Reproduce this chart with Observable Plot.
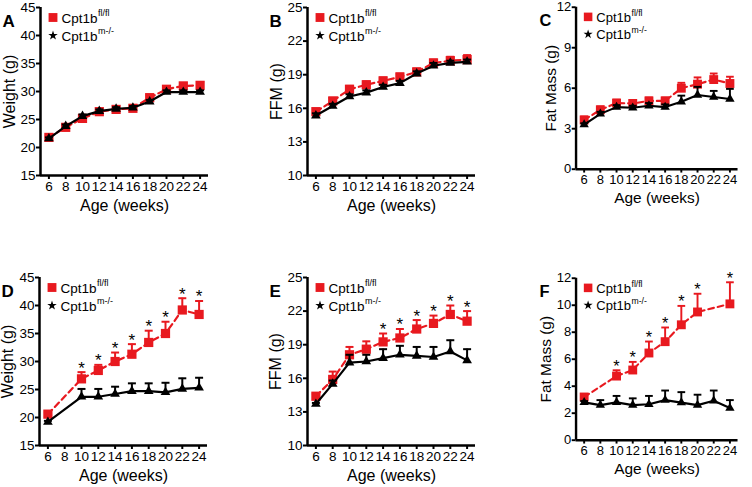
<!DOCTYPE html>
<html><head><meta charset="utf-8">
<script src="https://cdn.jsdelivr.net/npm/d3@7"></script>
<script src="https://cdn.jsdelivr.net/npm/@observablehq/plot@0.6"></script>
<style>
body{margin:0;background:#fff;}
#chart{position:relative;width:752px;height:487px;overflow:hidden;background:#fff;font-family:"Liberation Sans",Arial,sans-serif;}
.panel{position:absolute;}
</style></head><body><div id="chart"></div>
<script>
// ---------- data ----------
const weeks = [6, 8, 10, 12, 14, 16, 18, 20, 22, 24];
const weeksD = [6, 10, 12, 14, 16, 18, 20, 22, 24];
const weeksFRed = [6, 10, 12, 14, 16, 18, 20, 24];
const xTicks = [6, 8, 10, 12, 14, 16, 18, 20, 22, 24];

const legendLabel = "Cpt1b";
const supFl = "fl/fl";
const supKo = "m-/-";
const xTitle = "Age (weeks)";

// Panel A: Weight (g)
const aFl = [21.8, 23.6, 25.2, 26.4, 26.8, 27.0, 28.9, 30.4, 31.0, 31.1];
const aFlSem = [0.3, 0.4, 0.4, 0.3, 0.3, 0.3, 0.5, 0.4, 0.5, 0.6];
const aKo = [21.6, 23.8, 25.6, 26.5, 26.9, 27.1, 28.2, 29.9, 29.9, 29.9];
const aKoSem = [0.2, 0.3, 0.3, 0.3, 0.3, 0.3, 0.3, 0.3, 0.3, 0.3];
const aSig = [];

// Panel B: FFM (g)
const bFl = [15.7, 16.65, 17.7, 18.1, 18.45, 18.8, 19.25, 20.05, 20.25, 20.35];
const bFlSem = [0.2, 0.3, 0.3, 0.3, 0.3, 0.3, 0.3, 0.3, 0.35, 0.4];
const bKo = [15.35, 16.2, 17.05, 17.4, 17.9, 18.25, 19.1, 19.8, 20.05, 20.15];
const bKoSem = [0.2, 0.2, 0.2, 0.2, 0.2, 0.2, 0.2, 0.25, 0.2, 0.2];
const bSig = [];

// Panel C: Fat Mass (g)
const cFl = [3.65, 4.4, 4.9, 4.87, 5.06, 5.06, 6.0, 6.3, 6.64, 6.35];
const cFlSem = [0.25, 0.25, 0.25, 0.25, 0.25, 0.25, 0.4, 0.5, 0.45, 0.5];
const cKo = [3.3, 4.1, 4.6, 4.55, 4.7, 4.6, 5.0, 5.5, 5.35, 5.2];
const cKoSem = [0.1, 0.15, 0.15, 0.15, 0.2, 0.2, 0.45, 0.6, 0.45, 0.75];
const cSig = [];

// Panel D: Weight (g)
const dFl = [20.6, 26.9, 28.4, 30.0, 31.3, 33.4, 35.0, 39.2, 38.4];
const dFlSem = [0.3, 1.2, 1.0, 1.6, 1.8, 2.1, 2.1, 2.1, 2.4];
const dKo = [19.2, 23.7, 23.7, 24.2, 24.7, 24.7, 24.5, 25.1, 25.3];
const dKoSem = [0.2, 1.4, 1.4, 1.3, 1.4, 1.4, 1.7, 1.9, 1.8];
const dSig = [10, 12, 14, 16, 18, 20, 22, 24];

// Panel E: FFM (g)
const eFl = [14.4, 15.9, 18.1, 18.6, 19.25, 19.6, 20.4, 20.9, 21.7, 21.1];
const eFlSem = [0.2, 0.7, 0.7, 0.7, 0.75, 0.8, 0.8, 0.7, 0.8, 0.9];
const eKo = [13.7, 15.5, 17.4, 17.5, 17.8, 18.1, 18.0, 17.9, 18.4, 17.6];
const eKoSem = [0.1, 0.3, 0.7, 0.6, 0.8, 0.8, 0.8, 0.9, 1.0, 1.0];
const eSig = [14, 16, 18, 20, 22, 24];

// Panel F: Fat Mass (g)
const fFl = [3.2, 4.75, 5.2, 6.46, 7.3, 8.55, 9.5, 10.1];
const fFlSem = [0.1, 0.43, 0.6, 0.85, 1.05, 1.4, 1.35, 1.6];
const fKo = [2.8, 2.6, 2.8, 2.6, 2.66, 2.97, 2.78, 2.6, 2.92, 2.38];
const fKoSem = [0.1, 0.37, 0.48, 0.5, 0.62, 0.71, 0.78, 0.77, 0.76, 0.59];
const fSig = [10, 12, 14, 16, 18, 20, 24];

// ---------- styling ----------
const RED = "#e8191f";
const BLACK = "#000";
const FONT = '"Liberation Sans", Arial, sans-serif';

const capSymbol = {draw(ctx) { ctx.moveTo(-4, 0); ctx.lineTo(4, 0); }};

function rows(ws, vals, sems) {
  return ws.map((w, i) => ({week: w, mean: vals[i], top: vals[i] + sems[i]}));
}

const panels = [
  {letter: "A", left: 0, top: 0, yLabel: "Weight (g)", yDomain: [15, 45], yTicks: [15, 20, 25, 30, 35, 40, 45], yDx: -31,
   fl: rows(weeks, aFl, aFlSem), ko: rows(weeks, aKo, aKoSem), sig: aSig},
  {letter: "B", left: 267, top: 0, yLabel: "FFM (g)", yDomain: [10, 25], yTicks: [10, 13, 16, 19, 22, 25], yDx: -31,
   fl: rows(weeks, bFl, bFlSem), ko: rows(weeks, bKo, bKoSem), sig: bSig},
  {letter: "C", left: 537, top: 0, yLabel: "Fat Mass (g)", yDomain: [0, 12], yTicks: [0, 3, 6, 9, 12], yDx: -26,
   fl: rows(weeks, cFl, cFlSem), ko: rows(weeks, cKo, cKoSem), sig: cSig},
  {letter: "D", left: -1, top: 270, yLabel: "Weight (g)", yDomain: [15, 45], yTicks: [15, 20, 25, 30, 35, 40, 45], yDx: -32,
   fl: rows(weeksD, dFl, dFlSem), ko: rows(weeksD, dKo, dKoSem), sig: dSig},
  {letter: "E", left: 267, top: 270, yLabel: "FFM (g)", yDomain: [10, 25], yTicks: [10, 13, 16, 19, 22, 25], yDx: -32,
   fl: rows(weeks, eFl, eFlSem), ko: rows(weeks, eKo, eKoSem), sig: eSig},
  {letter: "F", left: 537, top: 271, yLabel: "Fat Mass (g)", yDomain: [0, 12], yTicks: [0, 2, 4, 6, 8, 10, 12], yDx: -31,
   fl: rows(weeksFRed, fFl, fFlSem), ko: rows(weeks, fKo, fKoSem), sig: fSig}
];

const xDomain = [5, 25];

function seriesMarks(data, color, symbol, r, dash) {
  return [
    Plot.ruleX(data, {x: "week", y1: "mean", y2: "top", stroke: color, strokeWidth: 2}),
    Plot.dot(data, {x: "week", y: "top", symbol: capSymbol, r: 4, stroke: color, strokeWidth: 2, fill: "none"}),
    Plot.line(data, {x: "week", y: "mean", stroke: color, strokeWidth: 2.2, strokeDasharray: dash}),
    Plot.dot(data, {x: "week", y: "mean", symbol, r, fill: color, stroke: "none"})
  ];
}

function label(txt, opts) {
  return Plot.text([txt], {text: d => d, textAnchor: "start", lineAnchor: "middle", ...opts});
}

const chart = document.getElementById("chart");

for (const p of panels) {
  const sigRows = p.fl.filter(d => p.sig.includes(d.week));
  const plot = Plot.plot({
    width: 223, height: 220,
    marginLeft: 40, marginRight: 15, marginTop: 7, marginBottom: 45,
    style: {fontSize: "13.5px", fontFamily: FONT, background: "transparent", color: "#000", overflow: "visible"},
    x: {domain: xDomain, ticks: xTicks},
    y: {domain: p.yDomain, ticks: p.yTicks},
    marks: [
      Plot.axisX({ticks: xTicks, tickSize: 4, tickPadding: 2, strokeWidth: 2, label: null, fontSize: 13.5}),
      Plot.axisY({ticks: p.yTicks, tickSize: 4, tickPadding: 1, strokeWidth: 2, label: null, fontSize: 13.5}),
      Plot.ruleY([p.yDomain[0]], {stroke: "#000", strokeWidth: 2.5}),
      Plot.ruleX([xDomain[0]], {stroke: "#000", strokeWidth: 2.5}),
      ...seriesMarks(p.fl, RED, "square", 5.2, "6,4"),
      ...seriesMarks(p.ko, BLACK, "triangle", 3.6, null),
      Plot.text(sigRows, {x: "week", y: "top", text: () => "*", dy: -4, fontSize: 17, fill: "#000"}),
      // legend
      Plot.dot([legendLabel], {frameAnchor: "top-left", dx: 12.5, dy: 10, symbol: "square", r: 5, fill: RED}),
      label(legendLabel, {frameAnchor: "top-left", dx: 21, dy: 11, fontSize: 13.5}),
      label(supFl, {frameAnchor: "top-left", dx: 57.5, dy: 6, fontSize: 9}),
      Plot.dot([legendLabel], {frameAnchor: "top-left", dx: 12.5, dy: 28, symbol: "star", r: 3, fill: BLACK}),
      label(legendLabel, {frameAnchor: "top-left", dx: 21, dy: 29, fontSize: 13.5}),
      label(supKo, {frameAnchor: "top-left", dx: 57.5, dy: 24, fontSize: 9}),
      // titles
      label(p.letter, {frameAnchor: "top-left", dx: -38, dy: 13.6, fontSize: 17, fontWeight: "bold"}),
      label(p.yLabel, {frameAnchor: "left", dx: p.yDx, rotate: -90, textAnchor: "middle", fontSize: 16}),
      label(xTitle, {frameAnchor: "bottom", dy: 30, textAnchor: "middle", fontSize: 16})
    ]
  });
  const div = document.createElement("div");
  div.className = "panel";
  div.style.left = p.left + "px";
  div.style.top = p.top + "px";
  div.appendChild(plot);
  chart.appendChild(div);
}
</script>
</body></html>
